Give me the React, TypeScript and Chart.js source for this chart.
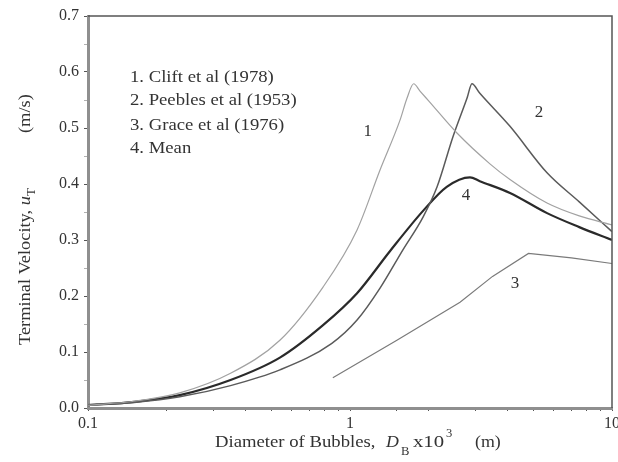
import React, { useEffect, useRef } from 'react';
import { Chart, registerables } from 'chart.js';

Chart.register(...registerables);

// Curve 1: Clift et al (1978)
const cliftX = [0.1, 0.15, 0.224, 0.35, 0.54, 0.789, 1.064, 1.302, 1.552, 1.65, 1.75, 1.85, 2.0, 2.56, 3.42, 4.08, 5.65, 7.5, 10];
const cliftY = [0.005, 0.012, 0.027, 0.062, 0.121, 0.216, 0.318, 0.425, 0.514, 0.553, 0.579, 0.566, 0.548, 0.491, 0.436, 0.408, 0.366, 0.343, 0.327];

// Curve 2: Peebles et al (1953)
const peeblesX = [0.1, 0.15, 0.224, 0.35, 0.54, 0.85, 1.064, 1.302, 1.59, 1.9, 2.15, 2.47, 2.8, 2.92, 3.13, 4.08, 5.65, 7.5, 10];
const peeblesY = [0.005, 0.01, 0.02, 0.04, 0.068, 0.115, 0.157, 0.214, 0.282, 0.341, 0.395, 0.484, 0.554, 0.579, 0.562, 0.503, 0.42, 0.368, 0.315];

// Curve 3: Grace et al (1976)
const graceX = [0.86, 1.51, 2.63, 3.5, 4.8, 7, 10];
const graceY = [0.054, 0.121, 0.189, 0.235, 0.276, 0.268, 0.258];

// Curve 4: Mean
const meanX = [0.1, 0.15, 0.224, 0.35, 0.54, 0.789, 1.064, 1.42, 1.9, 2.34, 2.87, 3.13, 4.08, 5.65, 7.5, 10];
const meanY = [0.005, 0.011, 0.023, 0.05, 0.09, 0.148, 0.205, 0.28, 0.352, 0.395, 0.412, 0.405, 0.384, 0.348, 0.323, 0.3];

const legendLines = ['1. Clift et al (1978)', '2. Peebles et al (1953)', '3. Grace et al (1976)', '4. Mean'];
const legendX = 0.1446;
const legendY = [0.582, 0.541, 0.496, 0.455];

const curveLabels = ['1', '2', '3', '4'];
const curveLabelX = [1.17, 5.26, 4.26, 2.77];
const curveLabelY = [0.493, 0.527, 0.223, 0.379];

const yTickMin = 0;
const yTickMax = 0.7;
const xMin = 0.1;
const xMax = 10;

const SERIF = '"Liberation Serif", "Times New Roman", serif';
const TXT = '#333333';

const pts = (xs: number[], ys: number[]) => xs.map((x, i) => ({ x, y: ys[i] }));

function sText(ctx: CanvasRenderingContext2D, s: string, x: number, y: number, font: string, sx: number) {
  ctx.save();
  ctx.translate(x, y);
  ctx.scale(sx, 1);
  ctx.font = font;
  ctx.fillText(s, 0, 0);
  const w = ctx.measureText(s).width * sx;
  ctx.restore();
  return w;
}

const decorPlugin = {
  id: 'decor',
  afterDraw(chart: any) {
    const { ctx, chartArea } = chart;
    const xs = chart.scales.x;
    const ys = chart.scales.y;
    ctx.save();
    // frame top & right
    ctx.strokeStyle = '#555';
    ctx.lineWidth = 1.5;
    ctx.beginPath();
    ctx.moveTo(chartArea.left, chartArea.top);
    ctx.lineTo(chartArea.right, chartArea.top);
    ctx.lineTo(chartArea.right, chartArea.bottom);
    ctx.stroke();

    ctx.fillStyle = TXT;
    ctx.textBaseline = 'alphabetic';
    ctx.textAlign = 'left';
    // legend
    legendLines.forEach((t, i) => {
      sText(ctx, t, xs.getPixelForValue(legendX), ys.getPixelForValue(legendY[i]), `17px ${SERIF}`, 1.1);
    });
    // curve labels
    ctx.textBaseline = 'middle';
    ctx.textAlign = 'center';
    ctx.font = `17px ${SERIF}`;
    curveLabels.forEach((t, i) => {
      ctx.fillText(t, xs.getPixelForValue(curveLabelX[i]), ys.getPixelForValue(curveLabelY[i]));
    });

    // x title
    ctx.textAlign = 'left';
    ctx.textBaseline = 'alphabetic';
    const by = 447;
    sText(ctx, 'Diameter of Bubbles,', 215, by, `17px ${SERIF}`, 1.1);
    sText(ctx, 'D', 386, by, `italic 17px ${SERIF}`, 1.05);
    sText(ctx, 'B', 401, by + 8, `12px ${SERIF}`, 1.05);
    sText(ctx, 'x10', 413, by, `17px ${SERIF}`, 1.22);
    sText(ctx, '3', 446, by - 10, `12px ${SERIF}`, 1.05);
    sText(ctx, '(m)', 475, by, `17px ${SERIF}`, 1.05);

    // y title (rotated)
    ctx.save();
    ctx.translate(30, 345);
    ctx.rotate(-Math.PI / 2);
    const w = sText(ctx, 'Terminal Velocity, ', 0, 0, `17px ${SERIF}`, 1.08);
    const wu = sText(ctx, 'u', w, 0, `italic 17px ${SERIF}`, 1.08);
    sText(ctx, 'T', w + wu, 5, `12px ${SERIF}`, 1.08);
    sText(ctx, '(m/s)', 212, 0, `17px ${SERIF}`, 1.08);
    ctx.restore();

    ctx.restore();
  },
};

export default function App() {
  const ref = useRef<HTMLCanvasElement>(null);
  useEffect(() => {
    if (!ref.current) return;
    const chart = new Chart(ref.current, {
      type: 'line',
      data: {
        datasets: [
          {
            label: 'Clift et al (1978)',
            data: pts(cliftX, cliftY),
            borderColor: '#a2a2a2',
            borderWidth: 1.2,
            pointRadius: 0,
            cubicInterpolationMode: 'monotone',
          },
          {
            label: 'Peebles et al (1953)',
            data: pts(peeblesX, peeblesY),
            borderColor: '#5a5a5a',
            borderWidth: 1.5,
            pointRadius: 0,
            cubicInterpolationMode: 'monotone',
          },
          {
            label: 'Grace et al (1976)',
            data: pts(graceX, graceY),
            borderColor: '#7a7a7a',
            borderWidth: 1.2,
            pointRadius: 0,
            tension: 0,
          },
          {
            label: 'Mean',
            data: pts(meanX, meanY),
            borderColor: '#2a2a2a',
            borderWidth: 2.2,
            pointRadius: 0,
            cubicInterpolationMode: 'monotone',
          },
        ],
      } as any,
      options: {
        animation: false,
        responsive: false,
        events: [],
        layout: { padding: { top: 16, right: 6, left: 0, bottom: 0 } },
        plugins: { legend: { display: false }, tooltip: { enabled: false }, title: { display: false } },
        scales: {
          x: {
            type: 'logarithmic',
            min: xMin,
            max: xMax,
            border: { display: true, width: 3, color: '#8f8f8f' },
            grid: {
              drawOnChartArea: false,
              drawTicks: true,
              tickLength: 3,
              tickColor: '#555',
              tickWidth: 1,
            },
            ticks: {
              autoSkip: false,
              maxRotation: 0,
              padding: 3,
              color: TXT,
              font: { family: SERIF, size: 16 },
              callback: (v: any) => {
                const l = Math.log10(Number(v));
                return Math.abs(l - Math.round(l)) < 1e-6 ? String(Number(v)) : '';
              },
            },
            afterFit: (s: any) => {
              s.height = 54;
              s.paddingLeft = 0;
              s.paddingRight = 0;
            },
          },
          y: {
            type: 'linear',
            min: yTickMin,
            max: yTickMax,
            border: { display: true, width: 3, color: '#8f8f8f' },
            grid: {
              drawOnChartArea: false,
              drawTicks: true,
              tickLength: 4,
              tickColor: (c: any) => {
                const v = c.tick ? c.tick.value : 0;
                return Math.abs(v * 10 - Math.round(v * 10)) < 1e-6 ? '#555' : 'rgba(80,80,80,0.45)';
              },
              tickWidth: 1,
            },
            ticks: {
              stepSize: 0.05,
              autoSkip: false,
              padding: 5,
              color: TXT,
              font: { family: SERIF, size: 16 },
              callback: (v: any) => {
                const n = Number(v);
                return Math.abs(n * 10 - Math.round(n * 10)) < 1e-6 ? n.toFixed(1) : '';
              },
            },
            afterFit: (s: any) => {
              s.width = 88;
              s.paddingTop = 0;
              s.paddingBottom = 0;
            },
          },
        },
      } as any,
      plugins: [decorPlugin],
    });
    return () => chart.destroy();
  }, []);
  return (
    <div style={{ position: 'fixed', left: 0, top: 0, width: 618, height: 462, background: '#fff' }}>
      <canvas ref={ref} width={618} height={462} style={{ display: 'block' }} />
    </div>
  );
}
